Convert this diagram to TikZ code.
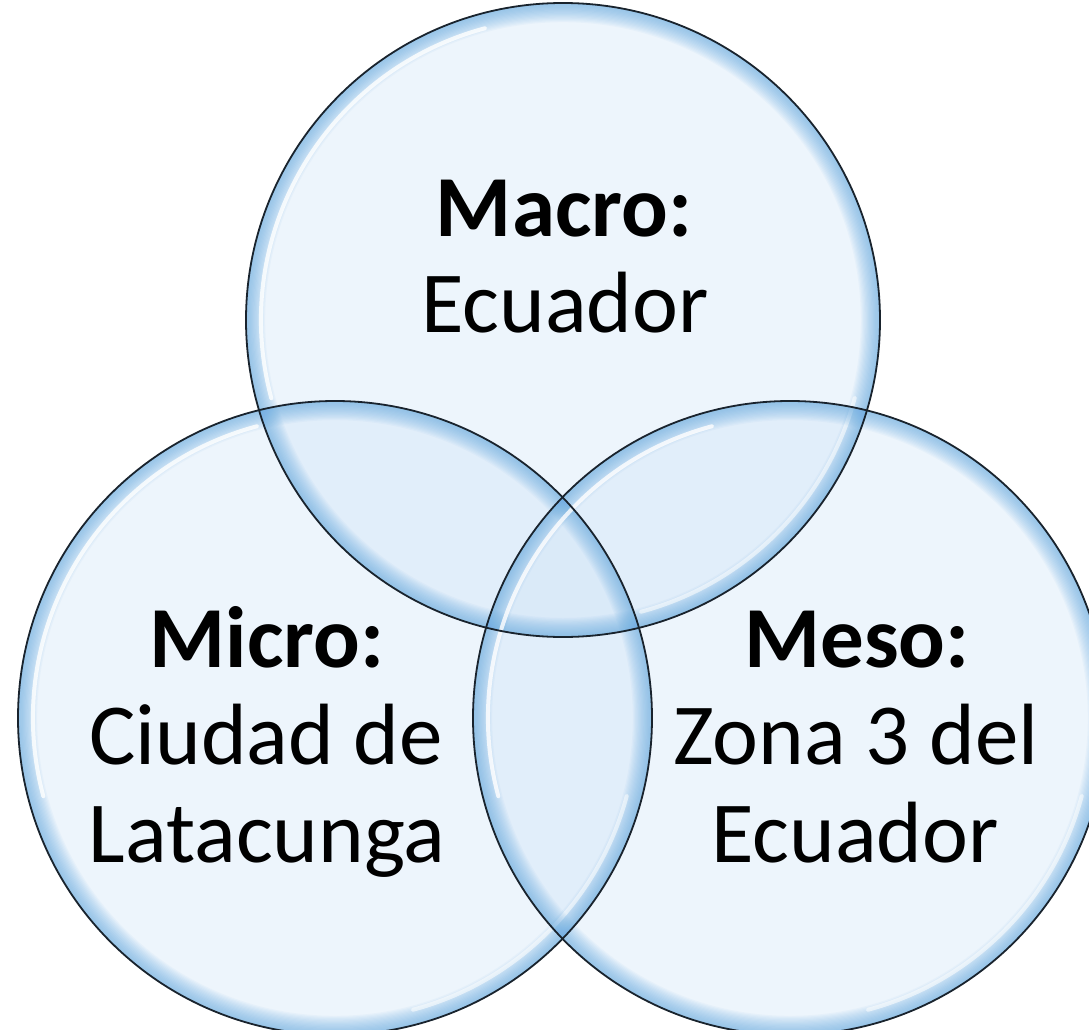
\documentclass[tikz,border=0pt]{standalone}
\usepackage{fontspec}
\setmainfont{Carlito}
\definecolor{circfill}{RGB}{205,226,246}
\definecolor{rimblue}{RGB}{105,172,225}
\definecolor{edgecol}{RGB}{25,35,45}
\begin{document}
\begin{tikzpicture}[x=1pt,y=-1pt,
  lbl/.style={anchor=base, inner sep=0pt, font=\fontsize{87}{97}\selectfont},
  lblb/.style={lbl, font=\fontsize{87}{97}\selectfont\bfseries},
  bubblefill/.style={fill=circfill, fill opacity=0.36},
  rimstroke/.style={draw=rimblue, draw opacity=0.06},
  gloss/.style={draw=white, draw opacity=0.8, line width=4pt, line cap=round},
  outline/.style={draw=edgecol, line width=1.8pt}]
\useasboundingbox (0,0) rectangle (1089,1030);
\def\R{317}
\coordinate (cmacro) at (563,320);
\coordinate (cmicro) at (335,718);
\coordinate (cmeso) at (790,718);
% fills
\foreach \c in {cmacro,cmicro,cmeso}{
  \fill[bubblefill] (\c) circle (\R);
}
% rims and gloss
\foreach \c in {cmacro,cmicro,cmeso}{
  \begin{scope}
    \clip (\c) circle (\R);
    \foreach \k in {1,...,16}{
      \draw[rimstroke, line width=\k*2.4pt] (\c) circle (\R);
    }
    \draw[gloss] (\c) ++(165:302) arc[start angle=165, end angle=255, radius=302];
    \draw[gloss, draw opacity=0.55] (\c) ++(15:302) arc[start angle=15, end angle=75, radius=302];
  \end{scope}
}
% outlines
\foreach \c in {cmacro,cmicro,cmeso}{
  \draw[outline] (\c) circle (\R);
}
% labels
\node[lblb] (macro1) at (564,236) {Macro:};
\node[lbl]  (macro2) at (565,332) {Ecuador};
\node[lblb] (micro1) at (267,667) {Micro:};
\node[lbl]  (micro2) at (266,764) {Ciudad de};
\node[lbl]  (micro3) at (267,862) {Latacunga};
\node[lblb] (meso1) at (857,667) {Meso:};
\node[lbl]  (meso2) at (856,764) {Zona 3 del};
\node[lbl]  (meso3) at (855,862) {Ecuador};
\end{tikzpicture}
\end{document}
